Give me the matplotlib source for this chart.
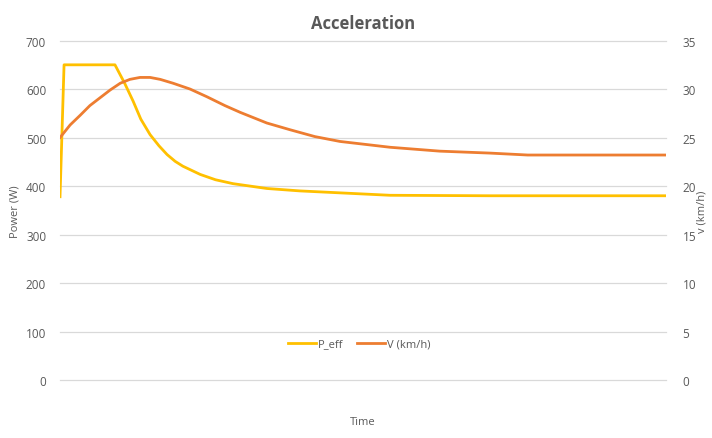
import matplotlib.pyplot as plt

plt.rcParams['font.family'] = ['Open Sans', 'DejaVu Sans']

# time (s)
t_p = [0, 1, 13.6, 16, 18.1, 20, 22.3, 24.5, 26.5, 28.5, 30.4, 34.7, 38.5, 42.8,
       51.2, 59.4, 69.3, 81.7, 106.4, 150]
p_eff = [378, 650, 650, 612, 575, 538, 506, 483, 465, 451, 441, 424, 413, 405,
         395, 390, 386, 381, 380, 380]

t_v = [0, 2.5, 5, 7.4, 9.9, 12.4, 14.9, 17.3, 19.8, 22.3, 24.8, 28, 32.2, 36.4,
       40.8, 44.6, 51.2, 57, 63.1, 69.3, 81.7, 94, 106.4, 115.8, 150]
v_kmh = [25.0, 26.3, 27.3, 28.3, 29.1, 29.9, 30.6, 31.0, 31.2, 31.2, 31.0, 30.6,
         30.0, 29.2, 28.3, 27.6, 26.5, 25.8, 25.1, 24.6, 24.0, 23.6, 23.4, 23.2, 23.2]

txt = '#595959'
fig = plt.figure(figsize=(7.12, 4.39), dpi=100)
ax = fig.add_axes([0.0843, 0.132, 0.851, 0.7733])
ax2 = ax.twinx()

l1, = ax.plot(t_p, p_eff, color='#FFC000', linewidth=2.0, label='P_eff')
l2, = ax2.plot(t_v, v_kmh, color='#ED7D31', linewidth=2.0, label='V (km/h)')

ax.set_xlim(0, 150)
ax.set_ylim(0, 700)
ax.set_yticks(range(0, 701, 100))
ax2.set_ylim(0, 35)
ax2.set_yticks(range(0, 36, 5))
ax.set_xticks([])
ax.grid(axis='y', color='#D9D9D9', linewidth=0.9)
for gl in ax.get_ygridlines():
    gl.set_clip_on(False)
ax.set_axisbelow(True)
for a in (ax, ax2):
    for s in a.spines.values():
        s.set_visible(False)
    a.tick_params(axis='y', length=0, labelsize=8.5, labelcolor=txt)
ax.tick_params(axis='y', pad=10)
ax2.tick_params(axis='y', pad=12)

ax.set_ylabel('Power (W)', fontsize=8, color=txt)
ax.yaxis.set_label_coords(-0.066, 0.5)
ax2.set_ylabel('v (km/h)', fontsize=8, color=txt)
ax2.yaxis.set_label_coords(1.05, 0.5)
ax.set_xlabel('Time', fontsize=8, color=txt, labelpad=26)
ax.set_title('Acceleration', fontsize=12, fontweight='bold', color=txt, pad=9)

ax.legend(handles=[l1, l2], loc='center', bbox_to_anchor=(0.494, 0.106), ncol=2,
          frameon=False, fontsize=8, labelcolor=txt, handlelength=2.5,
          handletextpad=0.2, columnspacing=1.2)

fig.savefig('out.png', dpi=100)
